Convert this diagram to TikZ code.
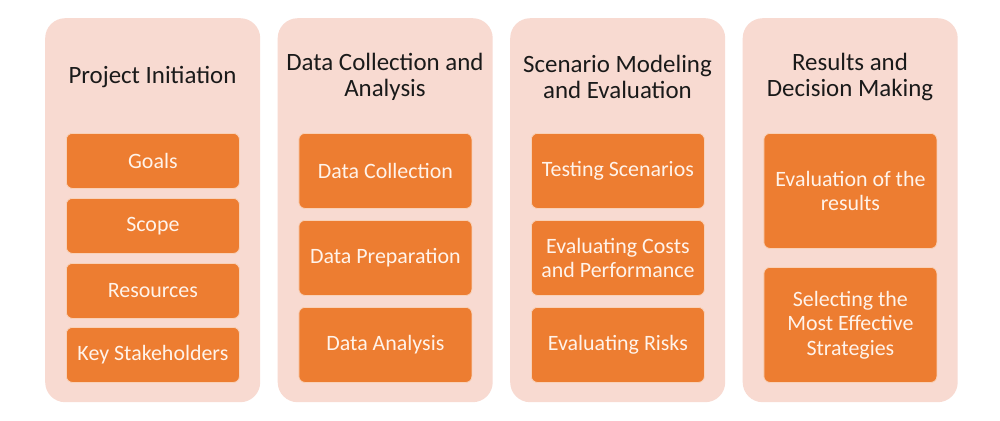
\documentclass[tikz,border=0pt]{standalone}
\usepackage{fontspec}
\setmainfont{Carlito}
\definecolor{panel}{HTML}{F8DAD1}
\definecolor{boxfill}{HTML}{ED7D31}
\definecolor{boxtext}{HTML}{FFF3EA}
\definecolor{titletext}{HTML}{1A1A1A}
\begin{document}
\begin{tikzpicture}[x=1bp,y=-1bp,
  panelbox/.style={fill=panel, draw=none, rounded corners=20bp, minimum width=215bp, minimum height=384bp, anchor=north west, inner sep=0pt},
  itembox/.style={fill=boxfill, draw=white!65!boxfill, line width=0.8bp, rounded corners=6bp, minimum width=173bp, minimum height=#1, anchor=north west, inner sep=0pt, text=boxtext, font=\fontsize{22}{24.5}\selectfont, align=center},
  titletxt/.style={font=\fontsize{25}{26.5}\selectfont, text=titletext, align=center, inner sep=0pt}]
\fill[white] (0,0) rectangle (1000,420);
\useasboundingbox (0,0) rectangle (1000,420);
% panels
\node[panelbox] (p1) at (45,18) {};
\node[panelbox] (p2) at (277.5,18) {};
\node[panelbox] (p3) at (510,18) {};
\node[panelbox] (p4) at (742.5,18) {};
% titles
\node[titletxt] (t1) at (152.5,77) {Project Initiation};
\node[titletxt] (t2) at (385,77) {Data Collection and\\Analysis};
\node[titletxt] (t3) at (617.5,77) {Scenario Modeling\\and Evaluation};
\node[titletxt] (t4) at (850,77) {Results and\\Decision Making};
% column 1
\node[itembox=55bp] (a1) at (66,133) {Goals};
\node[itembox=55bp] (a2) at (66,198) {Scope};
\node[itembox=55bp] (a3) at (66,263) {Resources};
\node[itembox=55bp] (a4) at (66,327) {Key Stakeholders};
% column 2
\node[itembox=75bp] (b1) at (298.5,133) {Data Collection};
\node[itembox=75bp] (b2) at (298.5,220) {Data Preparation};
\node[itembox=75bp] (b3) at (298.5,307) {Data Analysis};
% column 3
\node[itembox=75bp] (c1) at (531,133) {Testing Scenarios};
\node[itembox=75bp] (c2) at (531,220) {Evaluating Costs\\and Performance};
\node[itembox=75bp] (c3) at (531,307) {Evaluating Risks};
% column 4
\node[itembox=115bp] (d1) at (763.5,133) {Evaluation of the\\results};
\node[itembox=115bp] (d2) at (763.5,267) {Selecting the\\Most Effective\\Strategies};
\end{tikzpicture}
\end{document}
